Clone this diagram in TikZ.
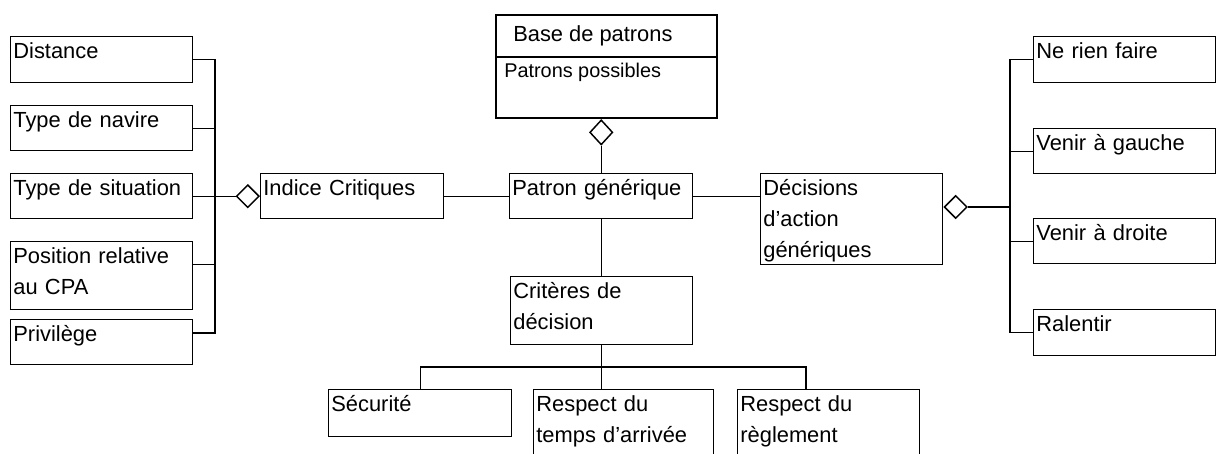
\documentclass[tikz,border=0pt]{standalone}
\usepackage{fontspec}
\setmainfont{Liberation Sans}
\usetikzlibrary{shapes.geometric,calc}
\newcommand\boxfont{\fontsize{16.4pt}{23.25pt}\selectfont}
\newcommand\smallboxfont{\fontsize{14.9pt}{17pt}\selectfont}
\begin{document}
\begin{tikzpicture}[x=0.75pt,y=-0.75pt,
  box/.style={draw, line width=1.1pt, rectangle, anchor=north west, inner xsep=2pt, inner ysep=0pt,
    align=left, text height=16pt, font=\boxfont},
  wA/.style={text width=132.5pt},
  wB/.style={text width=133.25pt},
  agg/.style={diamond, draw, line width=1.1pt, fill=white, inner sep=0pt, minimum width=17.25pt, minimum height=17.25pt},
  conn/.style={line width=1.1pt}]
\useasboundingbox (0,0) rectangle (1216,453);
\clip (0,0) rectangle (1216,453);

% left column
\node[box, wA, text depth=18.5pt]  (dist) at (10,36)  {Distance};
\node[box, wA, text depth=17.75pt] (nav)  at (10,105) {Type de navire};
\node[box, wA, text depth=17.75pt] (sit)  at (10,173) {Type de situation};
\node[box, wA, text depth=35pt]    (pos)  at (10,241) {Position relative\\au CPA};
\node[box, wA, text depth=17.75pt] (pri)  at (10,319) {Privilège};

% middle row
\node[box, wB, text depth=17.75pt] (ind) at (260,173) {Indice Critiques};
\node[box, wB, text depth=17.75pt] (pat) at (509,173) {Patron générique};
\node[box, wA, text depth=52.25pt] (dec) at (760,173) {Décisions\\d’action\\génériques};

% base de patrons
\node[draw, line width=1.6pt, anchor=north west, inner sep=0pt,
  minimum width=165.75pt, minimum height=77.25pt] (base) at (495,14) {};
\draw[line width=1.3pt] (base.west |- 0,57) -- (717,57);
\node[anchor=base west, inner sep=0pt, font=\boxfont] (bt) at (513,42) {Base de patrons};
\node[anchor=base west, inner sep=0pt, font=\smallboxfont] (bp) at (504,78) {Patrons possibles};

% right column
\node[box, wA, text depth=18.5pt]  (ne)  at (1033,36)  {Ne rien faire};
\node[box, wA, text depth=17.75pt] (vg)  at (1033,128) {Venir à gauche};
\node[box, wA, text depth=17.75pt] (vd)  at (1033,218) {Venir à droite};
\node[box, wA, text depth=18.5pt]  (ral) at (1033,309) {Ralentir};

% criteria
\node[box, wA, text depth=35pt]    (crit) at (510,276) {Critères de\\décision};
\node[box, wB, text depth=19.25pt] (sec)  at (328,389) {Sécurité};
\node[box, text width=131pt, text depth=44pt] (tps) at (533,389) {Respect du\\temps d’arrivée};
\node[box, wA, text depth=44pt]    (reg)  at (737,389) {Respect du\\règlement};

% diamonds
\node[agg, anchor=east] (d1) at (ind.west) {};
\node[agg, anchor=north, minimum height=18.75pt] (d2) at (pat.north |- base.south) {};
\node[agg, anchor=west] (d3) at (dec.east |- 0,207) {};

% left bus
\coordinate (lbus) at (215,0);
\coordinate (pe) at ([yshift=8.25pt]pos.east);
\coordinate (pr) at ([yshift=7pt]pri.east);
\draw[conn] (dist.east) -| (lbus |- pr) -- (pr);
\draw[conn] (nav.east) -- (nav.east -| lbus);
\draw[conn] (sit.east) -- (d1.west);
\draw[conn] (pe) -- (pe -| lbus);

% middle connectors
\draw[conn] (ind.east) -- (pat.west);
\draw[conn] (pat.east) -- (pat.east -| dec.west);
\draw[conn] (d2.south) -- (d2.south |- pat.north);
\draw[conn] (pat.south) -- (pat.south |- crit.north);

% right bus
\coordinate (rbus) at (1010,0);
\draw[conn] (ne.west) -| (rbus |- ral.west) -- (ral.west);
\draw[conn] (vg.west) -- (vg.west -| rbus);
\draw[conn] (vd.west) -- (vd.west -| rbus);
\draw[conn] (d3.east) -- (d3.east -| rbus);

% bottom bus
\coordinate (bb) at (0,367);
\coordinate (rd) at (806,367);
\draw[conn] (crit.south) -- (crit.south |- tps.north);
\draw[conn] (sec.north) |- (rd) -- (rd |- reg.north);
\end{tikzpicture}
\end{document}
